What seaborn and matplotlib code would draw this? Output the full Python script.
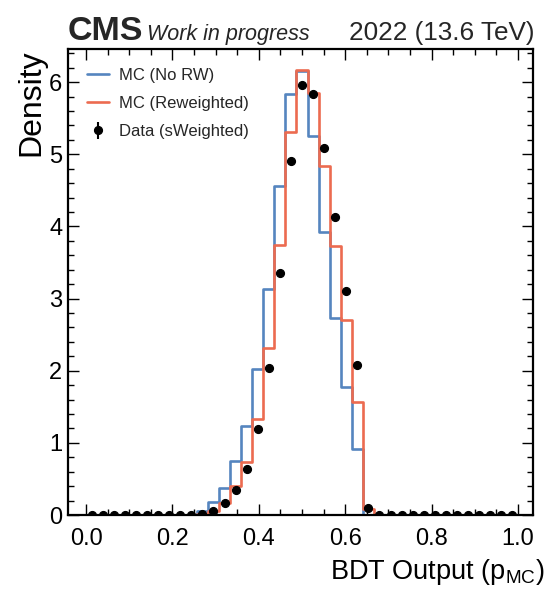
import numpy as np
import pandas as pd
import matplotlib
matplotlib.use("Agg")
import matplotlib.pyplot as plt
from matplotlib.ticker import MultipleLocator
import seaborn as sns

# ---------------- data ----------------
bin_edges = np.linspace(0.0, 1.0, 40)  # 39 bins

mc_norw = [0, 0, 0, 0, 0, 0, 0, 0, 0, 0,
           0.05, 0.18, 0.38, 0.75, 1.24, 2.02, 3.13, 4.56, 5.84, 6.16,
           5.26, 3.93, 2.73, 1.78, 0.92, 0, 0, 0, 0, 0,
           0, 0, 0, 0, 0, 0, 0, 0, 0]

mc_rw = [0, 0, 0, 0, 0, 0, 0, 0, 0, 0,
         0.02, 0.05, 0.16, 0.40, 0.73, 1.33, 2.31, 3.74, 5.31, 6.17,
         5.85, 4.84, 3.73, 2.71, 1.57, 0.08, 0, 0, 0, 0,
         0, 0, 0, 0, 0, 0, 0, 0, 0]

data_sw = [0, 0, 0, 0, 0, 0, 0, 0, 0, 0,
           0.02, 0.05, 0.16, 0.35, 0.635, 1.19, 2.04, 3.35, 4.91, 5.96,
           5.83, 5.09, 4.13, 3.11, 2.08, 0.10, 0, 0, 0, 0,
           0, 0, 0, 0, 0, 0, 0, 0, 0]
data_err = [0.0] * 39

labels = ["MC (No RW)", "MC (Reweighted)", "Data (sWeighted)"]
xlabel = "BDT Output (p$_{\\mathrm{MC}}$)"
ylabel = "Density"
exp_label = "CMS"
status_label = "Work in progress"
lumi_label = "2022 (13.6 TeV)"

# ---------------- style ----------------
sns.set_theme(style="ticks")
plt.rcParams["font.family"] = ["Liberation Sans", "DejaVu Sans"]
plt.rcParams["mathtext.fontset"] = "custom"
plt.rcParams["mathtext.rm"] = "Liberation Sans"
plt.rcParams["mathtext.it"] = "Liberation Sans:italic"
plt.rcParams["mathtext.bf"] = "Liberation Sans:bold"

blue = "#5585bf"
red = "#ec6b50"

centers = (bin_edges[:-1] + bin_edges[1:]) / 2
df = pd.DataFrame({"x": centers, "norw": mc_norw, "rw": mc_rw})
edges_list = bin_edges.tolist()

fig = plt.figure(figsize=(5.53, 5.92), dpi=100)
ax = fig.add_axes([0.123, 0.130, 0.8408, 0.7872])

sns.histplot(data=df, x="x", weights="norw", bins=edges_list, element="step",
             fill=False, color=blue, linewidth=1.9, ax=ax, label=labels[0])
sns.histplot(data=df, x="x", weights="rw", bins=edges_list, element="step",
             fill=False, color=red, linewidth=1.9, ax=ax, label=labels[1])
ax.errorbar(centers, data_sw, yerr=data_err, fmt="o", color="black",
            markersize=5.6, elinewidth=1.5, label=labels[2], zorder=5)

ax.set_xlim(-0.042, 1.035)
ax.set_ylim(0, 6.46)

ax.xaxis.set_major_locator(MultipleLocator(0.2))
ax.xaxis.set_minor_locator(MultipleLocator(0.05))
ax.yaxis.set_major_locator(MultipleLocator(1))
ax.yaxis.set_minor_locator(MultipleLocator(0.2))
ax.tick_params(which="both", direction="in", top=True, right=True,
               labelsize=17, width=1.0, colors="black")
ax.tick_params(which="major", length=8)
ax.tick_params(which="minor", length=4)
ax.tick_params(axis="x", which="both", pad=9)
ax.tick_params(axis="y", which="both", pad=4)
for sp in ax.spines.values():
    sp.set_linewidth(1.6)
    sp.set_color("black")
ax.grid(False)

ax.set_xlabel(xlabel, fontsize=19.5, color="black")
ax.xaxis.set_label_coords(1.026, -0.09)
ax.xaxis.label.set_ha("right")
ax.xaxis.label.set_va("top")
ax.set_ylabel(ylabel, loc="top", fontsize=23, color="black", labelpad=2)

ax.text(0.0, 1.02, exp_label, transform=ax.transAxes, fontsize=24.5,
        fontweight="bold", ha="left", va="baseline")
ax.text(0.17, 1.02, status_label, transform=ax.transAxes, fontsize=15.5,
        fontstyle="italic", ha="left", va="baseline")
ax.text(1.004, 1.02, lumi_label, transform=ax.transAxes, fontsize=18.8,
        ha="right", va="baseline")

handles, labs = ax.get_legend_handles_labels()
order = [labs.index(l) for l in labels]
ax.legend([handles[i] for i in order], [labs[i] for i in order],
          loc="upper left", frameon=False, fontsize=12,
          handlelength=1.3, handletextpad=0.6,
          labelspacing=0.78, borderaxespad=0.75, borderpad=0.4)

fig.savefig("out.png", dpi=100)
